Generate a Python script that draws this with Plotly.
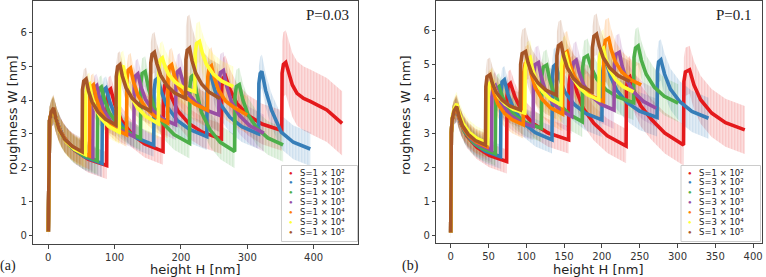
import plotly.graph_objects as go

# ---------------- labels / styling data ----------------
LABELS = ["S=1 × 10²", "S=3 × 10²", "S=1 × 10³", "S=3 × 10³",
          "S=1 × 10⁴", "S=3 × 10⁴", "S=1 × 10⁵"]
COLORS = ["#e41a1c", "#377eb8", "#4daf4a", "#984ea3", "#ff7f00", "#ffff33", "#a65628"]
PANEL_P = ["P=0.03", "P=0.1"]
PANEL_TAG = ["(a)", "(b)"]
X_TICKS_A = [0, 100, 200, 300, 400]
X_TICKS_B = [0, 50, 100, 150, 200, 250, 300, 350, 400]
Y_TICKS = [0, 1, 2, 3, 4, 5, 6]

# ---------------- panel (a) P=0.03 : height H, roughness W, band half-width per cycle ----------------
A_RED_H = [[0, 0.3, 0.8, 2, 4.5, 8, 14.4, 24, 40, 60, 88],
           [88.5, 90.5, 94, 100.3, 109.8, 125.6, 145.4, 173],
           [173.5, 175.5, 179, 185.6, 195.4, 211.8, 232.3, 261],
           [261.5, 263.5, 267, 273.8, 284, 301, 322.3, 352],
           [352.5, 354.5, 358, 362, 368, 375, 385, 395, 420, 443]]
A_RED_W = [[0.1, 1.5, 3.0, 3.4, 3.6, 3.66, 3.26, 2.86, 2.51, 2.25, 2.06],
           [4.0, 4.27, 4.33, 3.87, 3.41, 3.0, 2.70, 2.48],
           [4.15, 4.44, 4.5, 4.09, 3.68, 3.31, 3.05, 2.85],
           [4.4, 4.66, 4.72, 4.32, 3.91, 3.55, 3.29, 3.1],
           [4.8, 5.06, 5.12, 4.85, 4.45, 4.2, 4.05, 3.96, 3.71, 3.31]]
A_RED_E = [0.4, 0.4, 0.45, 0.6, 0.95]

A_BLUE_H = [[0, 0.3, 0.8, 2, 4.5, 8, 13.8, 22.6, 37.2, 55.5, 81],
            [81.5, 83.5, 87, 92.8, 101.4, 115.8, 133.8, 159],
            [159.5, 161.5, 165, 170.9, 179.8, 194.6, 213.1, 239],
            [239.5, 241.5, 245, 250.8, 259.4, 273.8, 291.8, 317],
            [317.5, 319.5, 322, 327.8, 336.6, 351.2, 369.5, 395]]
A_BLUE_W = [[0.1, 1.5, 3.0, 3.4, 3.6, 3.68, 3.29, 2.90, 2.56, 2.31, 2.12],
            [4.02, 4.3, 4.36, 3.94, 3.52, 3.14, 2.87, 2.67],
            [4.3, 4.59, 4.65, 4.22, 3.79, 3.40, 3.13, 2.92],
            [4.4, 4.69, 4.75, 4.31, 3.88, 3.49, 3.21, 3.0],
            [4.5, 4.79, 4.85, 4.28, 3.70, 3.05, 2.75, 2.55]]
A_BLUE_E = [0.4, 0.35, 0.4, 0.45, 0.5]

A_GREEN_H = [[0, 0.3, 0.8, 2, 4.5, 8, 13.3, 21.2, 34.4, 50.9, 74],
             [74.5, 76.5, 80, 84.7, 91.8, 103.6, 118.4, 139],
             [139.5, 141.5, 146, 151.4, 159.4, 172.8, 189.6, 213],
             [213.5, 215.5, 219, 224, 231.4, 243.8, 259.3, 281],
             [281.5, 283.5, 288, 293.3, 301.2, 314.4, 330.9, 354]]
A_GREEN_W = [[0.1, 1.5, 3.0, 3.4, 3.6, 3.7, 3.33, 2.95, 2.62, 2.38, 2.2],
             [4.05, 4.33, 4.39, 4.01, 3.63, 3.30, 3.06, 2.87],
             [4.5, 4.79, 4.85, 4.32, 3.79, 3.32, 2.98, 2.72],
             [4.4, 4.69, 4.75, 4.18, 3.62, 3.12, 2.75, 2.48],
             [4.12, 4.4, 4.46, 4.01, 3.57, 3.17, 2.88, 2.67]]
A_GREEN_E = [0.4, 0.35, 0.45, 0.5, 0.5]

A_PURPLE_H = [[0, 0.3, 0.8, 2, 4.5, 8, 12.7, 19.8, 31.6, 46.4, 67],
              [67.5, 69.5, 73, 77.5, 84.2, 95.4, 109.4, 129],
              [129.5, 131.5, 135, 139.6, 146.4, 157.8, 172.1, 192],
              [192.5, 194.5, 198, 202.7, 209.8, 221.6, 236.4, 257],
              [257.5, 259.5, 264, 268.9, 276.2, 288.4, 303.7, 325]]
A_PURPLE_W = [[0.1, 1.5, 3.0, 3.4, 3.6, 3.72, 3.37, 3.01, 2.70, 2.47, 2.3],
              [4.1, 4.37, 4.43, 4.05, 3.68, 3.34, 3.1, 2.92],
              [4.45, 4.72, 4.78, 4.40, 4.03, 3.69, 3.45, 3.27],
              [4.55, 4.84, 4.9, 4.57, 4.23, 3.94, 3.72, 3.56],
              [4.55, 4.82, 4.88, 4.42, 3.95, 3.54, 3.24, 3.02]]
A_PURPLE_E = [0.4, 0.35, 0.45, 0.5, 0.55]

A_ORANGE_H = [[0, 0.3, 0.8, 2, 4.5, 8, 12.3, 18.8, 29.6, 43.1, 62],
              [62.5, 64.5, 68, 72, 78, 88, 100.5, 118],
              [118.5, 120.5, 124, 128.5, 135.2, 146.4, 160.4, 180],
              [180.5, 182.5, 186, 190.3, 196.8, 207.6, 221.1, 240],
              [240.5, 242.5, 246, 250.3, 256.8, 267.6, 281.1, 300]]
A_ORANGE_W = [[0.1, 1.5, 3.0, 3.4, 3.6, 3.72, 3.38, 3.04, 2.73, 2.51, 2.35],
              [4.1, 4.39, 4.45, 4.08, 3.71, 3.38, 3.15, 2.97],
              [4.6, 4.89, 4.95, 4.54, 4.14, 3.78, 3.52, 3.32],
              [4.7, 4.99, 5.05, 4.71, 4.38, 4.08, 3.88, 3.7],
              [4.7, 4.96, 5.02, 4.66, 4.29, 3.97, 3.77, 3.56]]
A_ORANGE_E = [0.4, 0.35, 0.45, 0.5, 0.55]

A_YELLOW_H = [[0, 0.3, 0.8, 2, 4.5, 8, 11.8, 17.6, 27.2, 39.2, 56],
              [56.5, 58.5, 62, 65.6, 71, 80, 91.3, 107],
              [107.5, 109.5, 113, 117.2, 123.6, 134.2, 147.5, 166],
              [166.5, 168.5, 172, 175.9, 181.8, 191.6, 203.9, 221],
              [221.5, 223.5, 228, 232.1, 238.2, 248.4, 261.2, 279]]
A_YELLOW_W = [[0.1, 1.5, 3.0, 3.4, 3.62, 3.74, 3.40, 3.06, 2.76, 2.54, 2.38],
              [4.15, 4.41, 4.47, 4.12, 3.76, 3.45, 3.22, 3.05],
              [4.7, 4.96, 5.02, 4.59, 4.16, 3.78, 3.51, 3.3],
              [4.95, 5.19, 5.25, 5.0, 4.75, 4.53, 4.37, 4.25],
              [5.4, 5.68, 5.74, 5.41, 5.07, 4.78, 4.57, 4.4]]
A_YELLOW_E = [0.4, 0.35, 0.45, 0.5, 0.6]

A_BROWN_H = [[0, 0.3, 0.8, 2, 4.5, 8, 11.4, 16.6, 25.2, 36, 51],
             [51.5, 53.5, 57, 60.6, 66, 75, 86.3, 102],
             [102.5, 104.5, 108, 111.7, 117.2, 126.4, 137.9, 154],
             [154.5, 156.5, 160, 163.8, 169.4, 178.8, 190.6, 207],
             [207.5, 209.5, 213, 216.7, 222.2, 231.4, 242.9, 259]]
A_BROWN_W = [[0.1, 1.5, 3.0, 3.4, 3.65, 3.77, 3.45, 3.12, 2.83, 2.63, 2.47],
             [4.3, 4.56, 4.62, 4.28, 3.95, 3.65, 3.43, 3.27],
             [4.7, 4.99, 5.05, 4.71, 4.37, 4.06, 3.84, 3.68],
             [5.1, 5.36, 5.42, 5.08, 4.74, 4.43, 4.21, 4.05],
             [5.2, 5.48, 5.54, 5.17, 4.80, 4.47, 4.23, 4.05]]
A_BROWN_E = [0.4, 0.35, 0.4, 0.6, 1.0]

# ---------------- panel (b) P=0.1 ----------------
B_RED_H = [[0, 0.3, 0.8, 2, 4.5, 8, 13.3, 21.2, 34.4, 50.9, 74],
           [74.5, 76, 79, 85.2, 94.4, 109.8, 129, 156],
           [156.5, 158, 161, 166.7, 175.2, 189.4, 207.2, 232],
           [232.5, 234, 237, 242.7, 251.2, 265.4, 283.2, 308],
           [308.5, 310.5, 316, 321.8, 330.6, 345.2, 363.5, 389]]
B_RED_W = [[0.1, 1.5, 3.0, 3.4, 3.6, 3.66, 3.29, 2.92, 2.59, 2.35, 2.17],
           [4.1, 4.39, 4.45, 4.04, 3.63, 3.26, 3.0, 2.8],
           [4.4, 4.69, 4.75, 4.21, 3.72, 3.28, 2.92, 2.62],
           [4.3, 4.58, 4.64, 4.2, 3.8, 3.4, 3.0, 2.65],
           [4.5, 4.78, 4.84, 4.40, 3.97, 3.58, 3.3, 3.09]]
B_RED_E = [0.35, 0.4, 0.5, 0.6, 0.7]

B_BLUE_H = [[0, 0.3, 0.8, 2, 4.5, 8, 12.6, 19.6, 31.2, 45.7, 66],
            [66.5, 68, 71, 76, 83.6, 96.2, 112, 134],
            [134.5, 136, 139, 143.9, 151.2, 163.4, 178.7, 200],
            [200.5, 202.5, 206, 211.4, 219.4, 232.8, 249.6, 273],
            [273.5, 275, 278, 283, 290.6, 303.2, 319, 341]]
B_BLUE_W = [[0.1, 1.5, 3.0, 3.4, 3.6, 3.68, 3.34, 3.0, 2.69, 2.47, 2.31],
            [4.2, 4.49, 4.55, 4.11, 3.68, 3.29, 3.01, 2.8],
            [4.65, 4.94, 5.0, 4.60, 4.19, 3.83, 3.57, 3.38],
            [4.7, 4.99, 5.05, 4.65, 4.25, 3.90, 3.64, 3.45],
            [4.8, 5.07, 5.13, 4.71, 4.28, 3.91, 3.63, 3.43]]
B_BLUE_E = [0.35, 0.4, 0.5, 0.55, 0.6]

B_GREEN_H = [[0, 0.3, 0.8, 2, 4.5, 8, 12.1, 18.2, 28.4, 41.2, 59],
             [59.5, 61, 64, 68.5, 75.2, 86.4, 100.4, 120],
             [120.5, 122.5, 127, 130.8, 136.4, 145.8, 157.6, 174],
             [174.5, 176.5, 181, 185.9, 193.2, 205.4, 220.7, 242],
             [242.5, 244.5, 248, 252.2, 258.6, 269.2, 282.5, 301]]
B_GREEN_W = [[0.1, 1.5, 3.0, 3.4, 3.6, 3.7, 3.38, 3.05, 2.76, 2.56, 2.4],
             [4.0, 4.29, 4.35, 4.05, 3.75, 3.48, 3.29, 3.14],
             [4.65, 4.92, 4.98, 4.57, 4.16, 3.79, 3.53, 3.33],
             [4.9, 5.19, 5.25, 4.91, 4.57, 4.26, 4.05, 3.88],
             [5.2, 5.48, 5.54, 5.12, 4.71, 4.34, 4.07, 3.87]]
B_GREEN_E = [0.35, 0.4, 0.45, 0.5, 0.55]

B_PURPLE_H = [[0, 0.3, 0.8, 2, 4.5, 8, 11.7, 17.2, 26.4, 37.9, 54],
              [54.5, 56, 59, 63, 69, 79, 91.5, 109],
              [109.5, 111.5, 116, 119.5, 124.8, 133.6, 144.6, 160],
              [160.5, 162.5, 166, 170, 176, 186, 198.5, 216],
              [216.5, 218.5, 223, 226.9, 232.8, 242.6, 254.9, 272]]
B_PURPLE_W = [[0.1, 1.5, 3.0, 3.4, 3.6, 3.73, 3.42, 3.12, 2.84, 2.65, 2.5],
              [4.05, 4.32, 4.38, 4.08, 3.79, 3.52, 3.33, 3.19],
              [4.7, 4.99, 5.05, 4.66, 4.27, 3.92, 3.67, 3.48],
              [4.8, 5.06, 5.12, 4.76, 4.40, 4.08, 3.84, 3.67],
              [5.0, 5.29, 5.35, 4.94, 4.54, 4.18, 3.92, 3.72]]
B_PURPLE_E = [0.35, 0.4, 0.5, 0.55, 0.55]

B_ORANGE_H = [[0, 0.3, 0.8, 2, 4.5, 8, 11.2, 16, 24, 34, 48],
              [48.5, 50, 54, 57.4, 62.4, 70.8, 81.3, 96],
              [96.5, 98.5, 103, 106.6, 112, 121, 132.3, 148],
              [148.5, 150.5, 154, 157.8, 163.6, 173.2, 185.2, 202],
              [202.5, 204.5, 209, 212.4, 217.6, 226.2, 237, 252]]
B_ORANGE_W = [[0.1, 1.5, 3.0, 3.4, 3.62, 3.75, 3.46, 3.18, 2.92, 2.74, 2.6],
              [4.1, 4.39, 4.45, 4.15, 3.85, 3.58, 3.39, 3.24],
              [4.75, 5.02, 5.08, 4.70, 4.32, 3.98, 3.73, 3.55],
              [5.0, 5.31, 5.37, 5.01, 4.65, 4.33, 4.09, 3.92],
              [5.4, 5.7, 5.76, 5.42, 5.08, 4.78, 4.56, 4.4]]
B_ORANGE_E = [0.35, 0.4, 0.5, 0.6, 0.6]

B_YELLOW_H = [[0, 0.3, 0.8, 2, 4.5, 8, 11.3, 16.2, 24.4, 34.7, 49],
              [49.5, 51, 55, 58.4, 63.6, 72.2, 83, 98],
              [98.5, 100.5, 105, 108.3, 113.2, 121.4, 131.7, 146],
              [146.5, 148.5, 152, 155.5, 160.8, 169.6, 180.6, 196],
              [196.5, 198.5, 202, 205.2, 210, 218, 228, 242]]
B_YELLOW_W = [[0.1, 1.5, 3.0, 3.45, 3.7, 3.85, 3.56, 3.28, 3.02, 2.84, 2.7],
              [4.15, 4.44, 4.5, 4.27, 4.04, 3.84, 3.69, 3.58],
              [4.85, 5.14, 5.2, 4.86, 4.51, 4.21, 3.99, 3.82],
              [4.95, 5.24, 5.3, 4.97, 4.63, 4.34, 4.12, 3.96],
              [5.1, 5.41, 5.47, 5.15, 4.84, 4.56, 4.35, 4.2]]
B_YELLOW_E = [0.35, 0.4, 0.5, 0.55, 0.55]

B_BROWN_H = [[0, 0.3, 0.8, 2, 4.5, 8, 11, 15.6, 23.2, 32.7, 46],
             [46.5, 48, 52, 55.2, 60, 68, 78, 92],
             [92.5, 94.5, 99, 102.3, 107.2, 115.4, 125.7, 140],
             [140.5, 142.5, 146, 149.3, 154.2, 162.4, 172.7, 187],
             [187.5, 189.5, 193, 196.5, 201.8, 210.6, 221.6, 237]]
B_BROWN_W = [[0.1, 1.5, 3.0, 3.4, 3.65, 3.77, 3.49, 3.21, 2.96, 2.78, 2.65],
             [4.35, 4.64, 4.7, 4.44, 4.19, 3.96, 3.79, 3.67],
             [5.0, 5.31, 5.37, 5.05, 4.74, 4.46, 4.25, 4.1],
             [5.25, 5.54, 5.6, 5.25, 4.9, 4.59, 4.37, 4.2],
             [5.5, 5.82, 5.88, 5.54, 5.19, 4.89, 4.67, 4.5]]
B_BROWN_E = [0.35, 0.5, 0.7, 0.7, 0.6]

PANEL_A = [(A_RED_H, A_RED_W, A_RED_E), (A_BLUE_H, A_BLUE_W, A_BLUE_E),
           (A_GREEN_H, A_GREEN_W, A_GREEN_E), (A_PURPLE_H, A_PURPLE_W, A_PURPLE_E),
           (A_ORANGE_H, A_ORANGE_W, A_ORANGE_E), (A_YELLOW_H, A_YELLOW_W, A_YELLOW_E),
           (A_BROWN_H, A_BROWN_W, A_BROWN_E)]
PANEL_B = [(B_RED_H, B_RED_W, B_RED_E), (B_BLUE_H, B_BLUE_W, B_BLUE_E),
           (B_GREEN_H, B_GREEN_W, B_GREEN_E), (B_PURPLE_H, B_PURPLE_W, B_PURPLE_E),
           (B_ORANGE_H, B_ORANGE_W, B_ORANGE_E), (B_YELLOW_H, B_YELLOW_W, B_YELLOW_E),
           (B_BROWN_H, B_BROWN_W, B_BROWN_E)]

# ---------------- figure ----------------
FW, FH = 766, 277


def fx(p):
    return p / FW


def fy(p):
    return 1 - p / FH


def rgba(hexc, a):
    h = hexc.lstrip("#")
    return "rgba(%d,%d,%d,%.3f)" % (int(h[0:2], 16), int(h[2:4], 16), int(h[4:6], 16), a)


def flat(nested):
    return [v for seg in nested for v in seg]


fig = go.Figure()

for panel, xa, ya in [(PANEL_A, "x", "y"), (PANEL_B, "x2", "y2")]:
    # shaded bands first
    for (Hn, Wn, En), col in zip(panel, COLORS):
        h = flat(Hn)
        w = flat(Wn)
        e = [err for seg, err in zip(Hn, En) for _ in seg]
        up = [a + b for a, b in zip(w, e)]
        lo = [a - b for a, b in zip(w, e)]
        fig.add_trace(go.Scatter(
            x=h + h[::-1], y=up + lo[::-1], mode="lines", fill="toself",
            fillcolor=rgba(col, 0.15), line=dict(width=0),
            fillpattern=dict(shape="|", size=3, solidity=0.35, fgcolor=rgba(col, 0.28)),
            hoverinfo="skip", showlegend=False, xaxis=xa, yaxis=ya))
    # lines
    for (Hn, Wn, En), col, lab in zip(panel, COLORS, LABELS):
        fig.add_trace(go.Scatter(
            x=flat(Hn), y=flat(Wn), mode="lines", name=lab,
            line=dict(color=col, width=3.6), showlegend=False, xaxis=xa, yaxis=ya))

axis_common = dict(showgrid=False, zeroline=False, showline=True, mirror=True,
                   linecolor="#444", linewidth=1, ticks="outside", ticklen=3.5,
                   tickcolor="#444", tickwidth=1,
                   tickfont=dict(family="DejaVu Sans", size=10, color="#333"))

fig.update_layout(
    width=FW, height=FH, margin=dict(l=0, r=0, t=0, b=0),
    paper_bgcolor="white", plot_bgcolor="white", showlegend=False,
    xaxis=dict(domain=[fx(33.3), fx(358.3)], range=[-22.6, 467.4], tickvals=X_TICKS_A,
               anchor="y", **axis_common),
    yaxis=dict(domain=[fy(244), fy(1)], range=[-0.267, 6.94], tickvals=Y_TICKS,
               anchor="x", **axis_common),
    xaxis2=dict(domain=[fx(436.3), fx(762)], range=[-19.05, 411.8], tickvals=X_TICKS_B,
                anchor="y2", **axis_common),
    yaxis2=dict(domain=[fy(243.3), fy(1)], range=[-0.213, 6.845], tickvals=Y_TICKS,
                anchor="x2", **axis_common),
)

ann = []
shapes = []
title_font = dict(family="DejaVu Sans", size=13, color="#222")
serif_font = dict(family="Liberation Serif", size=15, color="#222")

# axis titles, panel tags, P labels
for xc, yl_x, tag_x, p_x, ptxt, tag in [(195, 12, 8, 327.5, PANEL_P[0], PANEL_TAG[0]),
                                         (598, 405, 410, 734, PANEL_P[1], PANEL_TAG[1])]:
    ann.append(dict(text="height H [nm]", x=fx(xc), y=fy(269), xref="paper", yref="paper",
                    showarrow=False, font=title_font, xanchor="center", yanchor="middle"))
    ann.append(dict(text="roughness W [nm]", x=fx(yl_x), y=fy(115), xref="paper", yref="paper",
                    showarrow=False, font=title_font, textangle=-90,
                    xanchor="center", yanchor="middle"))
    ann.append(dict(text=tag, x=fx(tag_x), y=fy(266), xref="paper", yref="paper",
                    showarrow=False, font=dict(family="Liberation Serif", size=14, color="#222"),
                    xanchor="center", yanchor="middle"))
    ann.append(dict(text=ptxt, x=fx(p_x), y=fy(15), xref="paper", yref="paper",
                    showarrow=False, font=serif_font, xanchor="center", yanchor="middle"))

# legends (drawn manually for the compact matplotlib-style spacing)
for bx0, bx1, by0, by1, dot_x, txt_x, row0, drow in [(281.5, 357.5, 165.5, 241.5, 290.5, 299, 172.5, 9.9),
                                                      (681, 760.5, 165.5, 241.5, 689.7, 698, 172.5, 9.9)]:
    shapes.append(dict(type="rect", xref="paper", yref="paper",
                       x0=fx(bx0), x1=fx(bx1), y0=fy(by1), y1=fy(by0),
                       line=dict(color="#cccccc", width=1), fillcolor="rgba(255,255,255,0.85)",
                       layer="above"))
    for i, (lab, col) in enumerate(zip(LABELS, COLORS)):
        ry = row0 + i * drow
        ann.append(dict(text="●", x=fx(dot_x), y=fy(ry), xref="paper", yref="paper",
                        showarrow=False, font=dict(size=6, color=col), borderpad=0,
                        xanchor="center", yanchor="middle"))
        ann.append(dict(text=lab, x=fx(txt_x), y=fy(ry), xref="paper", yref="paper",
                        showarrow=False, font=dict(family="DejaVu Sans", size=8.5, color="#222"),
                        borderpad=0, xanchor="left", yanchor="middle"))

fig.update_layout(annotations=ann, shapes=shapes)
fig.write_html("out.html")
